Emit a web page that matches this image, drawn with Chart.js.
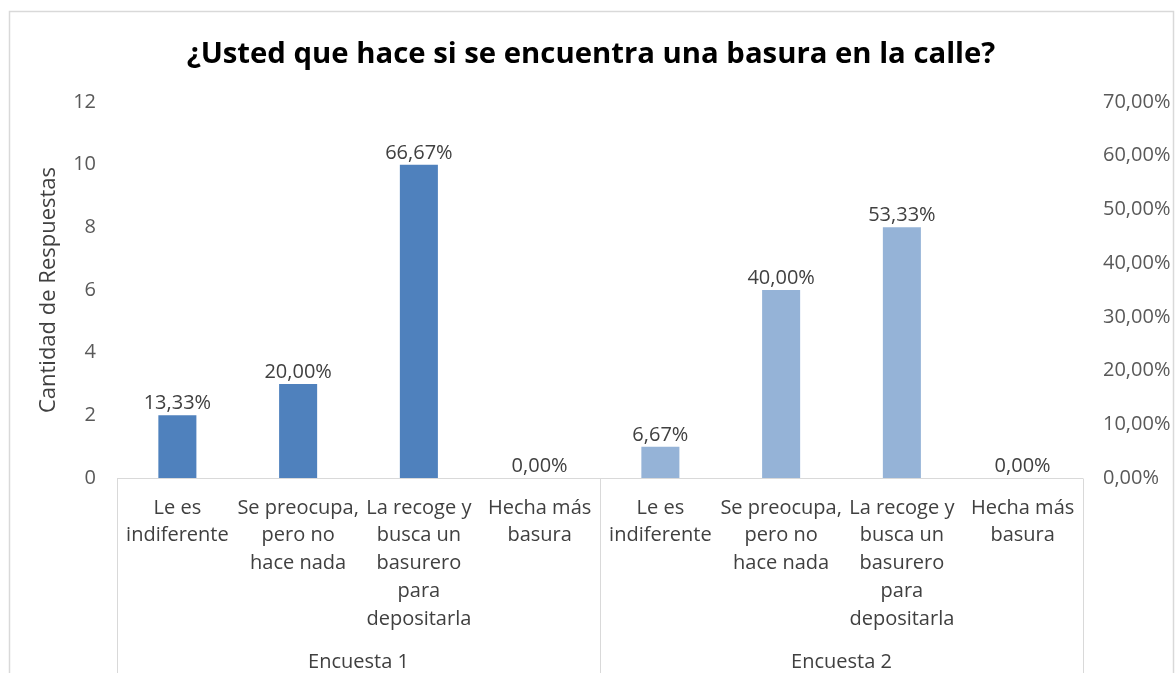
<!DOCTYPE html>
<html>
<head>
<meta charset="utf-8">
<script src="https://cdn.jsdelivr.net/npm/chart.js@4/dist/chart.umd.min.js"></script>
<style>
  html, body { margin: 0; padding: 0; background: #ffffff; }
  #wrap { width: 1176px; height: 673px; position: relative; }
</style>
</head>
<body>
<div id="wrap"><canvas id="c" width="1176" height="673"></canvas></div>
<script>
// ---- Data ----
const chartTitle = '¿Usted que hace si se encuentra una basura en la calle?';
const yAxisTitle = 'Cantidad de Respuestas';
const groupNames = ['Encuesta 1', 'Encuesta 2'];
const categories = [
  ['Le es', 'indiferente'],
  ['Se preocupa,', 'pero no', 'hace nada'],
  ['La recoge y', 'busca un', 'basurero', 'para', 'depositarla'],
  ['Hecha más', 'basura']
];
const encuesta1Counts = [2, 3, 10, 0];
const encuesta2Counts = [1, 6, 8, 0];
const encuesta1Pct = [13.33, 20.00, 66.67, 0.00];
const encuesta2Pct = [6.67, 40.00, 53.33, 0.00];
const leftTicks = [0, 2, 4, 6, 8, 10, 12];
const rightTicks = [0, 10, 20, 30, 40, 50, 60, 70];

// ---- Build ----
const allLabels = categories.concat(categories);
const pad4 = [null, null, null, null];
const ds1 = encuesta1Counts.concat(pad4);
const ds2 = pad4.concat(encuesta2Counts);
const pct1 = encuesta1Pct.concat(pad4);
const pct2 = pad4.concat(encuesta2Pct);

const FONT = '"Open Sans", Lato, sans-serif';
const FS = 20;
const fmtPct = v => v.toFixed(2).replace('.', ',') + '%';

const decorPlugin = {
  id: 'decor',
  beforeDraw(chart) {
    const ctx = chart.ctx;
    ctx.save();
    ctx.fillStyle = '#ffffff';
    ctx.fillRect(0, 0, chart.width, chart.height);
    ctx.strokeStyle = '#d9d9d9';
    ctx.lineWidth = 1.5;
    ctx.strokeRect(9.5, 11.5, 1164, 700);
    ctx.restore();
  },
  afterDraw(chart) {
    const ctx = chart.ctx;
    const a = chart.chartArea;
    const x = chart.scales.x;
    ctx.save();
    // title
    ctx.fillStyle = '#000000';
    ctx.font = 'bold 29.3px ' + FONT;
    ctx.textAlign = 'center';
    ctx.textBaseline = 'middle';
    ctx.fillText(chartTitle, 591, 55);
    // category axis frame
    ctx.strokeStyle = '#d9d9d9';
    ctx.lineWidth = 1;
    const y0 = Math.round(a.bottom) + 0.5;
    ctx.beginPath();
    ctx.moveTo(a.left, y0); ctx.lineTo(a.right, y0);
    const mid = (x.getPixelForValue(3) + x.getPixelForValue(4)) / 2;
    [a.left, mid, a.right].forEach(px => {
      const xx = Math.round(px) + 0.5;
      ctx.moveTo(xx, y0); ctx.lineTo(xx, chart.height);
    });
    ctx.stroke();
    // group labels
    ctx.fillStyle = '#404040';
    ctx.font = FS + 'px ' + FONT;
    ctx.fillText(groupNames[0], (a.left + mid) / 2, 662);
    ctx.fillText(groupNames[1], (mid + a.right) / 2, 662);
    // percentage data labels
    ctx.textBaseline = 'alphabetic';
    [pct1, pct2].forEach((pct, di) => {
      const meta = chart.getDatasetMeta(di);
      meta.data.forEach((el, i) => {
        if (pct[i] === null || pct[i] === undefined) return;
        ctx.fillText(fmtPct(pct[i]), el.x, el.y - 6);
      });
    });
    ctx.restore();
  }
};

new Chart(document.getElementById('c'), {
  type: 'bar',
  data: {
    labels: allLabels,
    datasets: [
      { label: groupNames[0], data: ds1, backgroundColor: '#4f81bd', yAxisID: 'y',
        categoryPercentage: 1, barPercentage: 0.315, grouped: false },
      { label: groupNames[1], data: ds2, backgroundColor: '#95b3d7', yAxisID: 'y',
        categoryPercentage: 1, barPercentage: 0.315, grouped: false }
    ]
  },
  options: {
    responsive: false,
    animation: false,
    layout: { padding: { top: 102, left: 0, right: 0, bottom: 0 } },
    plugins: { legend: { display: false }, title: { display: false }, tooltip: { enabled: false } },
    scales: {
      x: {
        grid: { display: false, drawTicks: false },
        border: { display: false },
        ticks: { color: '#404040', font: { family: FONT, size: FS, lineHeight: 1.39 },
                 padding: 16, maxRotation: 0, autoSkip: false },
        afterFit(s) { s.height = 195; }
      },
      y: {
        position: 'left',
        min: 0, max: 12,
        afterBuildTicks(s) { s.ticks = leftTicks.map(v => ({ value: v })); },
        grid: { display: false, drawTicks: false },
        border: { display: false },
        ticks: { color: '#595959', font: { family: FONT, size: FS }, padding: 21 },
        title: { display: true, text: yAxisTitle, color: '#404040',
                 font: { family: FONT, size: 22 }, padding: { top: 36, bottom: 0 } },
        afterFit(s) { s.width = 117; }
      },
      y1: {
        position: 'right',
        display: true,
        min: 0, max: 70,
        afterBuildTicks(s) { s.ticks = rightTicks.map(v => ({ value: v })); },
        grid: { display: false, drawTicks: false },
        border: { display: false },
        ticks: { color: '#595959', font: { family: FONT, size: FS }, padding: 20,
                 callback: v => fmtPct(v) },
        afterFit(s) { s.width = 93; }
      }
    }
  },
  plugins: [decorPlugin]
});
</script>
</body>
</html>
